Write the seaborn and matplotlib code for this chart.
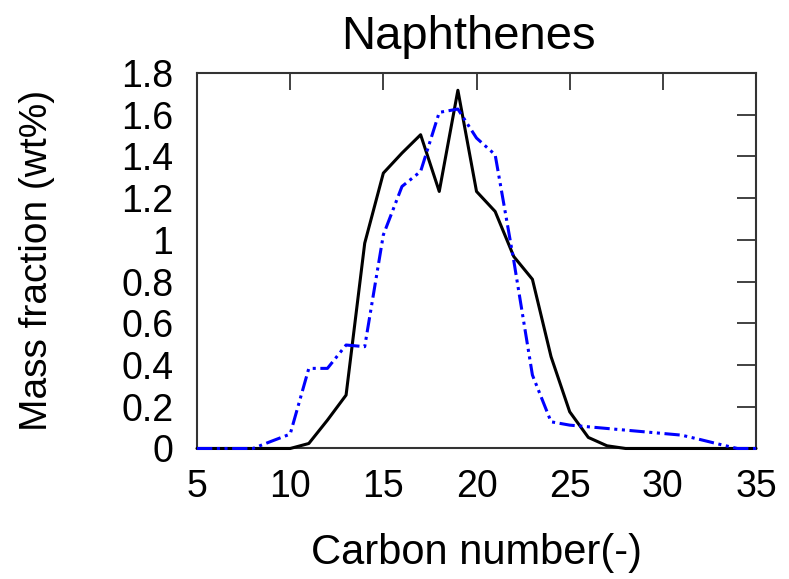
import matplotlib
matplotlib.use("Agg")
import matplotlib.pyplot as plt
import seaborn as sns
import pandas as pd

carbon = list(range(5, 36))
black_vals = [0, 0, 0, 0, 0, 0, 0.024, 0.136, 0.256, 0.984, 1.32, 1.416, 1.504, 1.232, 1.717,
              1.232, 1.136, 0.92, 0.811, 0.44, 0.176, 0.053, 0.013, 0, 0, 0, 0, 0, 0, 0, 0]
blue_vals = [0, 0, 0, 0, 0.035, 0.069, 0.384, 0.384, 0.496, 0.488, 1.024, 1.256, 1.328, 1.611, 1.627,
             1.488, 1.408, 0.90, 0.352, 0.128, 0.112, 0.104, 0.096, 0.088, 0.080, 0.072, 0.064,
             0.043, 0.021, 0, 0]
x_ticks = [5, 10, 15, 20, 25, 30, 35]
y_ticks = [0, 0.2, 0.4, 0.6, 0.8, 1.0, 1.2, 1.4, 1.6, 1.8]
y_tick_labels = ["0", "0.2", "0.4", "0.6", "0.8", "1", "1.2", "1.4", "1.6", "1.8"]

sns.set_style("white")
plt.rcParams['font.family'] = ['Liberation Sans', 'DejaVu Sans']
plt.rcParams['text.color'] = 'black'
plt.rcParams['axes.labelcolor'] = 'black'

fig = plt.figure(figsize=(7.89, 5.79), dpi=100)
ax = fig.add_axes([0.2497, 0.2254, 0.9582 - 0.2497, 0.874 - 0.2254])

df_black = pd.DataFrame({"carbon": carbon, "value": black_vals})
df_blue = pd.DataFrame({"carbon": carbon, "value": blue_vals})

sns.lineplot(data=df_black, x="carbon", y="value", ax=ax, color="black", linewidth=2.2)
sns.lineplot(data=df_blue, x="carbon", y="value", ax=ax, color="#0000ff", linewidth=2.2,
             dashes=False)
ax.lines[1].set_dashes([5, 1.5, 1, 1.5, 1, 1.5])
ax.lines[0].set_zorder(5)
ax.lines[1].set_zorder(6)
for ln in ax.lines:
    ln.set_clip_on(False)

ax.set_xlim(5, 35)
ax.set_ylim(0, 1.8)
ax.set_xticks(x_ticks)
ax.set_xticklabels([str(t) for t in x_ticks])
ax.set_yticks(y_ticks)
ax.set_yticklabels(y_tick_labels)

ax.tick_params(axis='both', direction='in', length=14, width=1.3, color='#333333',
               labelsize=27, top=True, right=True, labelcolor='black')
ax.tick_params(axis='y', pad=17)
ax.tick_params(axis='x', pad=15, length=12)
for s in ax.spines.values():
    s.set_color('#333333')
    s.set_linewidth(1.5)

ax.set_title("Naphthenes", fontsize=34, pad=17, color='black', x=0.485)
ax.set_xlabel("Carbon number(-)", fontsize=30, labelpad=20)
ax.set_ylabel("Mass fraction (wt%)", fontsize=28, labelpad=48)

fig.savefig("out.png", dpi=100)
